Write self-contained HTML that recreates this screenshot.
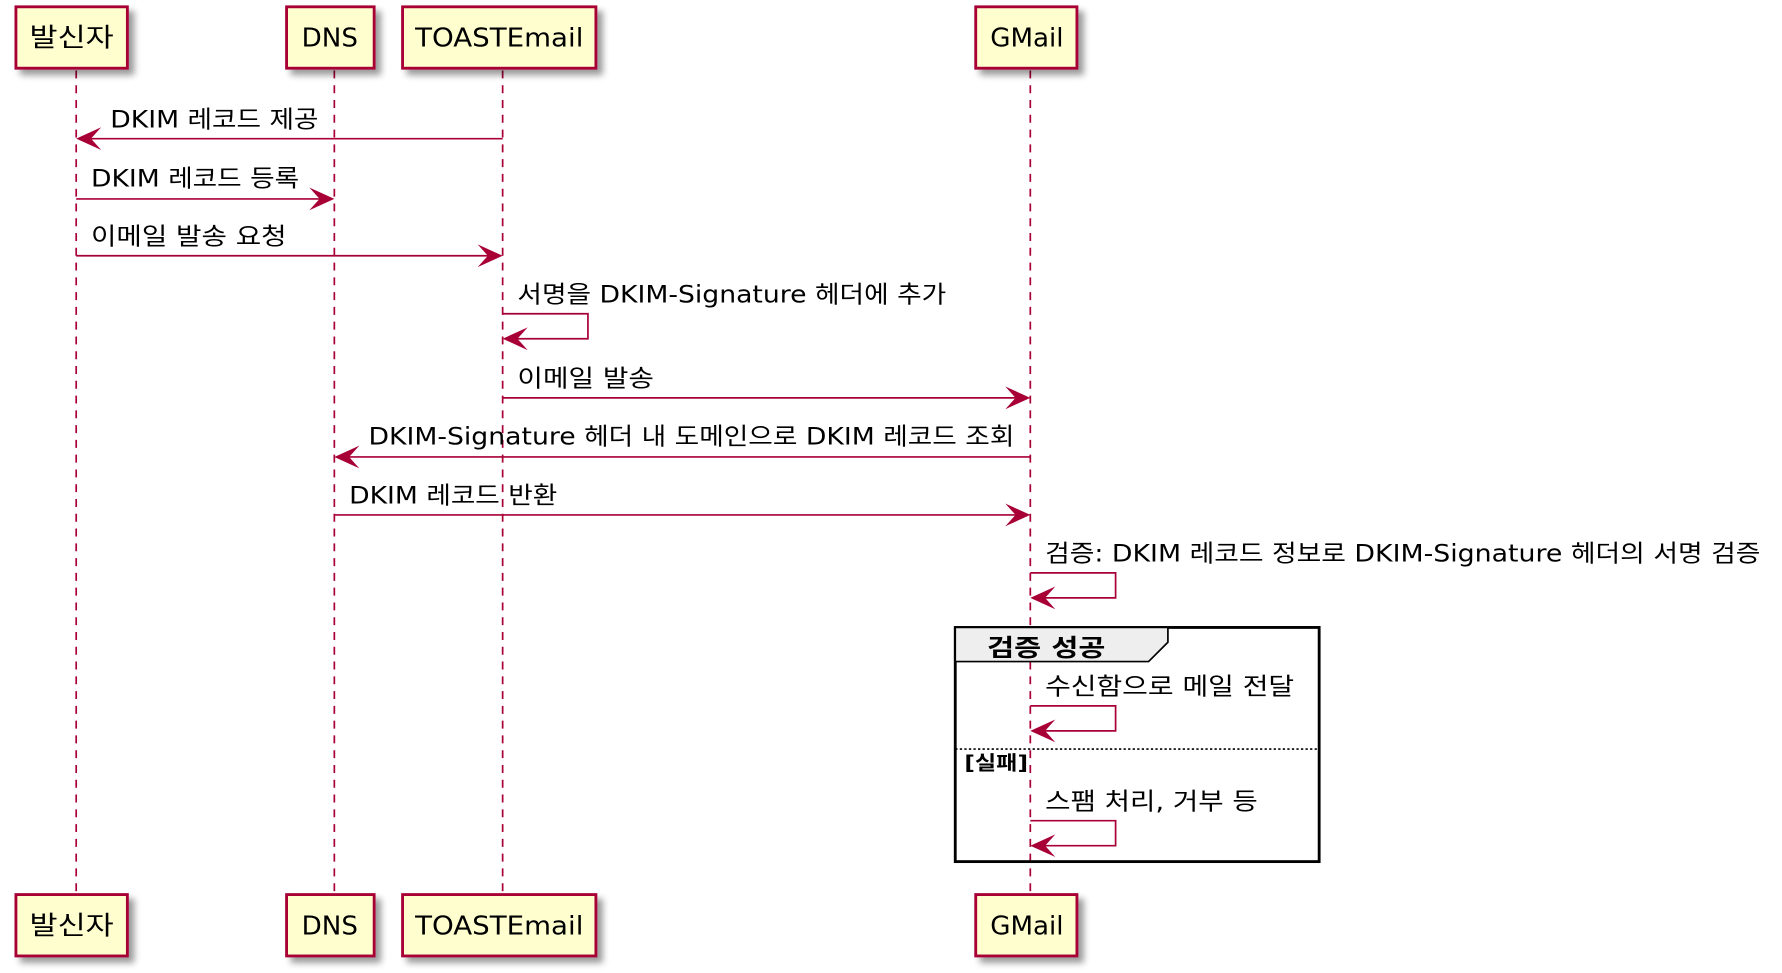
<!DOCTYPE html>
<html><head><meta charset="utf-8"><style>
html,body{margin:0;padding:0;background:#fff;}
svg{display:block}
text{font-family:"DejaVu Sans","Noto Sans CJK KR",sans-serif;}
</style></head><body>
<svg width="1782" height="973" viewBox="0 0 1567 856" preserveAspectRatio="none" xmlns="http://www.w3.org/2000/svg">
<defs>
<filter id="sh" x="-20%" y="-20%" width="150%" height="160%"><feGaussianBlur in="SourceAlpha" stdDeviation="3"/><feOffset dx="5" dy="5"/><feComponentTransfer><feFuncA type="linear" slope="0.4"/></feComponentTransfer><feMerge><feMergeNode/><feMergeNode in="SourceGraphic"/></feMerge></filter>
</defs>
<g stroke="#A80036" stroke-width="1.5" stroke-dasharray="7,6">
<line x1="67" y1="62" x2="67" y2="786"/>
<line x1="294" y1="62" x2="294" y2="786"/>
<line x1="442" y1="62" x2="442" y2="786"/>
<line x1="906" y1="62" x2="906" y2="786"/>
</g>
<g fill="#FEFECE" stroke="#A80036" stroke-width="2.5" filter="url(#sh)">
<rect x="14" y="6" width="98" height="54"/><rect x="252" y="6" width="77" height="54"/><rect x="354" y="6" width="170" height="54"/><rect x="858" y="6" width="89" height="54"/>
<rect x="14" y="787" width="98" height="54"/><rect x="252" y="787" width="77" height="54"/><rect x="354" y="787" width="170" height="54"/><rect x="858" y="787" width="89" height="54"/>
</g>
<g font-size="23" text-anchor="middle" fill="#000">
<text x="63" y="41" textLength="74" lengthAdjust="spacingAndGlyphs">발신자</text><text x="290" y="41">DNS</text><text x="439" y="41" textLength="148" lengthAdjust="spacingAndGlyphs">TOASTEmail</text><text x="903" y="41">GMail</text>
<text x="63" y="822" textLength="74" lengthAdjust="spacingAndGlyphs">발신자</text><text x="290" y="822">DNS</text><text x="439" y="822" textLength="148" lengthAdjust="spacingAndGlyphs">TOASTEmail</text><text x="903" y="822">GMail</text>
</g>
<rect x="840" y="552" width="320" height="206" fill="none" stroke="#000" stroke-width="2.5"/>
<path d="M840 552 H1027 V565 L1010 582 H840 Z" fill="#EEEEEE" stroke="#000" stroke-width="1.5"/>
<text x="868" y="577" font-size="21" font-weight="bold" textLength="104" lengthAdjust="spacingAndGlyphs">검증 성공</text>
<line x1="840" y1="659" x2="1160" y2="659" stroke="#000" stroke-width="1.5" stroke-dasharray="2,2"/>
<text x="848" y="677" font-size="17" font-weight="bold" textLength="56" lengthAdjust="spacingAndGlyphs">[실패]</text>
<g stroke="#A80036" stroke-width="1.5" fill="none">
<line x1="442" y1="122" x2="69" y2="122"/>
<line x1="67" y1="175" x2="292" y2="175"/>
<line x1="67" y1="225" x2="440" y2="225"/>
<polyline points="442,276 517,276 517,298 444,298"/>
<line x1="442" y1="350" x2="904" y2="350"/>
<line x1="906" y1="402" x2="296" y2="402"/>
<line x1="294" y1="453" x2="904" y2="453"/>
<polyline points="906,504 981,504 981,526 908,526"/>
<polyline points="906,621 981,621 981,643 908,643"/>
<polyline points="906,722 981,722 981,744 908,744"/>
</g>
<g fill="#A80036">
<polygon points="67,122 89,112 80,122 89,132"/>
<polygon points="294,175 272,165 281,175 272,185"/>
<polygon points="442,225 420,215 429,225 420,235"/>
<polygon points="442,298 464,288 455,298 464,308"/>
<polygon points="906,350 884,340 893,350 884,360"/>
<polygon points="294,402 316,392 307,402 316,412"/>
<polygon points="906,453 884,443 893,453 884,463"/>
<polygon points="906,526 928,516 919,526 928,536"/>
<polygon points="906,643 928,633 919,643 928,653"/>
<polygon points="906,744 928,734 919,744 928,754"/>
</g>
<g font-size="21" fill="#000">
<text x="97" y="112" textLength="183" lengthAdjust="spacingAndGlyphs">DKIM 레코드 제공</text>
<text x="80" y="164" textLength="183" lengthAdjust="spacingAndGlyphs">DKIM 레코드 등록</text>
<text x="80" y="215" textLength="172" lengthAdjust="spacingAndGlyphs">이메일 발송 요청</text>
<text x="455" y="266" textLength="377" lengthAdjust="spacingAndGlyphs">서명을 DKIM-Signature 헤더에 추가</text>
<text x="455" y="340" textLength="120" lengthAdjust="spacingAndGlyphs">이메일 발송</text>
<text x="324" y="391" textLength="568" lengthAdjust="spacingAndGlyphs">DKIM-Signature 헤더 내 도메인으로 DKIM 레코드 조회</text>
<text x="307" y="443" textLength="183" lengthAdjust="spacingAndGlyphs">DKIM 레코드 반환</text>
<text x="919" y="494" textLength="629" lengthAdjust="spacingAndGlyphs">검증: DKIM 레코드 정보로 DKIM-Signature 헤더의 서명 검증</text>
<text x="919" y="611" textLength="219" lengthAdjust="spacingAndGlyphs">수신함으로 메일 전달</text>
<text x="919" y="712" textLength="187" lengthAdjust="spacingAndGlyphs">스팸 처리, 거부 등</text>
</g>
</svg>
</body></html>
